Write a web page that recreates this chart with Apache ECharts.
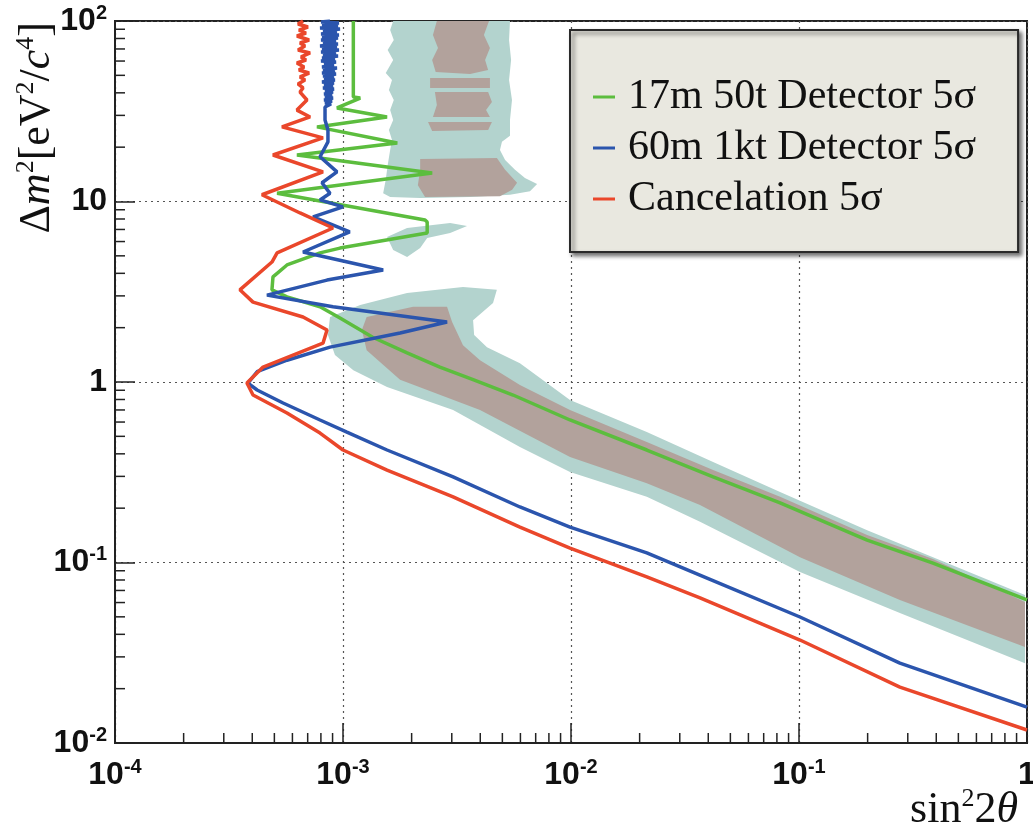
<!DOCTYPE html>
<html><head><meta charset="utf-8">
<script src="https://cdn.jsdelivr.net/npm/echarts@6/dist/echarts.min.js"></script>
<style>html,body{margin:0;padding:0;background:#fff}#c{width:1033px;height:831px}</style>
</head><body><div id="c"></div>
<script>
// ---------- data (x = sin^2 2θ, y = Δm^2 [eV^2/c^4]) ----------
const seriesNames = ['17m 50t Detector 5σ', '60m 1kt Detector 5σ', 'Cancelation 5σ'];

const green17m = [[1.11e-3,100],[1.11e-3,37.9],[1.19e-3,37.4],[9.41e-4,33.0],[1.56e-3,29.4],[7.69e-4,25.9],[1.73e-3,21.1],[6.28e-4,18.1],[2.46e-3,14.4],[5.14e-4,11.1],[2.29e-3,7.90],[2.34e-3,7.70],[2.34e-3,6.69],[9.70e-4,5.52],[7.93e-4,5.19],[5.68e-4,4.45],[4.93e-4,3.82],[4.88e-4,3.24],[5.68e-4,2.96],[7.93e-4,2.61],[9.70e-4,2.26],[1.35e-3,1.77],[1.91e-3,1.45],[2.66e-3,1.21],[3.72e-3,1.03],[5.57e-3,0.847],[9.90e-3,0.616],[2.15e-2,0.420],[4.20e-2,0.298],[8.26e-2,0.214],[1.99e-1,0.133],[3.87e-1,0.0993],[1,0.0620]];

const blue60m = [[8.77e-4,100],[8.01e-4,98.7],[9.60e-4,97.5],[8.09e-4,95.0],[9.51e-4,93.8],[7.93e-4,91.5],[9.70e-4,90.3],[8.17e-4,88.0],[9.41e-4,86.9],[8.01e-4,84.8],[9.60e-4,83.6],[8.09e-4,81.6],[9.51e-4,80.5],[8.01e-4,78.5],[9.32e-4,77.5],[8.17e-4,75.5],[9.51e-4,74.6],[7.93e-4,72.7],[9.41e-4,71.8],[8.09e-4,70.0],[9.60e-4,69.1],[8.01e-4,67.4],[9.32e-4,66.5],[8.17e-4,64.9],[9.51e-4,64.0],[8.09e-4,62.4],[9.22e-4,61.6],[8.01e-4,60.1],[9.32e-4,59.3],[8.26e-4,57.8],[9.13e-4,57.0],[8.09e-4,55.6],[9.41e-4,54.9],[8.17e-4,53.5],[9.22e-4,52.8],[8.09e-4,51.5],[9.32e-4,50.8],[8.17e-4,49.6],[9.13e-4,49.0],[8.26e-4,47.8],[9.22e-4,47.1],[8.09e-4,45.9],[9.13e-4,45.3],[8.26e-4,44.2],[9.04e-4,43.6],[8.17e-4,42.6],[9.13e-4,42.0],[8.34e-4,41.0],[9.04e-4,40.4],[8.26e-4,39.4],[8.95e-4,38.9],[8.34e-4,37.9],[9.04e-4,37.4],[8.26e-4,36.5],[8.95e-4,36.0],[8.34e-4,35.1],[8.86e-4,34.7],[8.34e-4,33.4],[8.34e-4,28.3],[8.59e-4,24.9],[8.59e-4,21.4],[7.93e-4,17.7],[9.41e-4,14.6],[8.09e-4,12.7],[8.77e-4,11.1],[7.93e-4,10.2],[1.0e-3,9.33],[7.39e-4,8.21],[1.07e-3,6.78],[6.68e-4,5.25],[1.50e-3,4.17],[8.51e-4,3.67],[4.64e-4,3.03],[9.04e-4,2.61],[2.86e-3,2.15],[1.78e-3,1.87],[8.77e-4,1.56],[5.68e-4,1.32],[4.20e-4,1.14],[3.83e-4,0.987],[4.20e-4,0.903],[5.46e-4,0.765],[7.93e-4,0.616],[1.04e-3,0.528],[1.56e-3,0.420],[3.04e-3,0.298],[5.97e-3,0.203],[9.90e-3,0.157],[2.15e-2,0.113],[3.95e-2,0.0820],[1.01e-1,0.0499],[2.77e-1,0.0277],[1,0.0158]];

const redCancel = [[6.68e-4,100],[6.35e-4,96.2],[7.02e-4,92.6],[6.41e-4,89.1],[6.88e-4,85.8],[6.28e-4,82.6],[7.10e-4,78.5],[6.48e-4,75.5],[6.81e-4,72.7],[6.35e-4,69.1],[7.17e-4,66.5],[6.55e-4,63.2],[6.88e-4,60.8],[6.28e-4,58.5],[6.75e-4,55.6],[6.41e-4,53.5],[7.10e-4,51.5],[6.48e-4,49.0],[6.81e-4,47.1],[6.35e-4,44.8],[6.68e-4,42.6],[6.48e-4,40.4],[6.95e-4,36.5],[6.28e-4,32.1],[7.17e-4,29.4],[5.40e-4,25.9],[8.17e-4,22.5],[4.93e-4,18.1],[8.17e-4,14.6],[4.41e-4,10.9],[6.48e-4,8.64],[9.04e-4,7.13],[5.14e-4,5.19],[4.88e-4,4.62],[3.53e-4,3.24],[4.03e-4,2.77],[6.68e-4,2.29],[8.51e-4,1.94],[8.17e-4,1.64],[4.46e-4,1.21],[3.79e-4,0.987],[4.03e-4,0.847],[5.68e-4,0.673],[7.93e-4,0.521],[1.0e-3,0.420],[1.56e-3,0.325],[3.04e-3,0.231],[5.97e-3,0.157],[9.90e-3,0.120],[2.15e-2,0.0832],[3.68e-2,0.0636],[1.01e-1,0.0372],[2.77e-1,0.0204],[1,0.0118]];

// shaded regions (outer = teal, inner = brown)
const tealTop = [[1.66e-3,100],[1.61e-3,89.1],[1.67e-3,78.5],[1.57e-3,69.1],[1.66e-3,60.8],[1.54e-3,51.5],[1.64e-3,47.1],[1.59e-3,41.5],[1.67e-3,36.5],[1.61e-3,32.1],[1.66e-3,28.3],[1.59e-3,24.9],[1.64e-3,21.9],[1.61e-3,19.3],[1.57e-3,15.9],[1.54e-3,13.2],[1.50e-3,11.1],[1.61e-3,10.6],[2.18e-3,10.45],[3.61e-3,10.6],[5.40e-3,10.9],[6.61e-3,11.4],[7.10e-3,12.5],[6.28e-3,13.5],[5.68e-3,15.0],[5.14e-3,17.0],[4.88e-3,19.3],[4.98e-3,21.4],[5.40e-3,23.1],[5.40e-3,28.3],[5.51e-3,36.5],[5.35e-3,47.1],[5.46e-3,60.8],[5.35e-3,78.5],[5.40e-3,100]];
const tealMid = [[1.56e-3,6.36],[1.91e-3,7.13],[2.95e-3,7.60],[3.50e-3,7.31],[2.95e-3,6.69],[2.34e-3,6.28],[2.18e-3,5.52],[1.91e-3,4.93],[1.66e-3,5.39]];
const tealLow = [[8.77e-4,2.29],[1.19e-3,2.67],[1.91e-3,3.11],[3.36e-3,3.36],[4.73e-3,3.24],[4.55e-3,2.74],[3.72e-3,2.20],[3.76e-3,1.82],[4.28e-3,1.56],[5.97e-3,1.27],[9.90e-3,0.795],[2.15e-2,0.528],[4.20e-2,0.360],[8.26e-2,0.246],[1.99e-1,0.151],[3.87e-1,0.107],[0.98,0.0661],[0.98,0.0277],[2.77e-1,0.0525],[1.01e-1,0.0885],[3.68e-2,0.168],[2.15e-2,0.231],[9.90e-3,0.317],[5.97e-3,0.436],[3.04e-3,0.700],[1.56e-3,0.938],[1.11e-3,1.16],[9.22e-4,1.41],[8.59e-4,1.82]];
const brownA = [[2.58e-3,100],[2.48e-3,83.6],[2.61e-3,70.9],[2.46e-3,60.8],[2.55e-3,52.2],[3.61e-3,50.8],[4.33e-3,53.5],[4.20e-3,60.8],[4.41e-3,70.9],[4.15e-3,83.6],[4.37e-3,100]];
const brownB = [[2.41e-3,48.3],[4.41e-3,48.3],[4.41e-3,42.6],[2.41e-3,42.6]];
const brownC = [[2.53e-3,40.4],[4.33e-3,40.4],[4.50e-3,35.6],[4.24e-3,32.1],[4.41e-3,29.4],[2.48e-3,29.4],[2.58e-3,34.2]];
const brownD = [[2.36e-3,27.6],[4.50e-3,27.6],[4.33e-3,24.9],[2.46e-3,24.6]];
const brownE = [[2.18e-3,17.2],[4.73e-3,17.4],[5.14e-3,15.0],[5.80e-3,12.7],[5.52e-3,11.6],[4.88e-3,10.7],[2.29e-3,10.6],[2.13e-3,12.3],[2.18e-3,15.0]];
const brownLow = [[1.27e-3,2.29],[2.03e-3,2.61],[2.86e-3,2.61],[3.01e-3,2.15],[3.36e-3,1.60],[3.99e-3,1.32],[5.97e-3,0.962],[9.90e-3,0.700],[2.15e-2,0.465],[4.20e-2,0.325],[8.26e-2,0.231],[1.99e-1,0.142],[3.87e-1,0.1045],[0.98,0.0604],[0.98,0.0340],[2.77e-1,0.0620],[1.01e-1,0.107],[3.68e-2,0.208],[2.15e-2,0.275],[9.90e-3,0.384],[3.99e-3,0.700],[1.78e-3,1.03],[1.27e-3,1.50],[1.21e-3,1.94]];

// axis ticks and labels
const xTickValues = [1e-4, 1e-3, 1e-2, 1e-1, 1];
const xTickLabels = ['{b|10}{s|-4}', '{b|10}{s|-3}', '{b|10}{s|-2}', '{b|10}{s|-1}', '{b|1}'];
const yTickValues = [1e-2, 1e-1, 1, 10, 100];
const yTickLabels = ['{b|10}{s|-2}', '{b|10}{s|-1}', '{b|1}', '{b|10}', '{b|10}{s|2}'];
const xMinorTicks = [2e-4,3e-4,4e-4,5e-4,6e-4,7e-4,8e-4,9e-4,2e-3,3e-3,4e-3,5e-3,6e-3,7e-3,8e-3,9e-3,2e-2,3e-2,4e-2,5e-2,6e-2,7e-2,8e-2,9e-2,0.2,0.3,0.4,0.5,0.6,0.7,0.8,0.9];
const yMinorTicks = [0.02,0.03,0.04,0.05,0.06,0.07,0.08,0.09,0.2,0.3,0.4,0.5,0.6,0.7,0.8,0.9,2,3,4,5,6,7,8,9,20,30,40,50,60,70,80,90];
const xTitle = 'sin{s|2}2{i|θ}';
const yTitle = 'Δ{i|m}{s|2}[eV{s|2}/{i|c}{s|4}]';

// ---------- styling ----------
const GREEN = '#5cbd3e', BLUE = '#2b55ad', RED = '#ea472b', TEAL = '#b3d3ce', BROWN = '#b2a29c';
const SANS = '"Liberation Sans Narrow","Liberation Sans",Arial,sans-serif';
const SERIF = '"Liberation Serif","Times New Roman",serif';
const labelRich = {
  b: {fontFamily: SANS, fontWeight: 'bold', fontSize: 32, color: '#111', lineHeight: 36},
  s: {fontFamily: SANS, fontWeight: 'bold', fontSize: 20, color: '#111', lineHeight: 20, verticalAlign: 'top'}
};
function pick(values, labels, v) {
  for (let i = 0; i < values.length; i++) if (Math.abs(Math.log10(values[i]) - Math.log10(v)) < 1e-6) return labels[i];
  return '';
}
function poly(name, pts, color) {
  return {
    type: 'custom', name: name, coordinateSystem: 'cartesian2d', silent: true,
    encode: {x: 0, y: 1}, data: pts, z: 1,
    renderItem: function (params, api) {
      if (params.dataIndex !== 0) return;
      return {type: 'polygon', shape: {points: pts.map(p => api.coord(p))}, style: {fill: color}};
    }
  };
}
function line(name, data, color) {
  return {type: 'line', name: name, data: data, showSymbol: false, symbol: 'none', color: color,
    lineStyle: {color: color, width: 3.5}, itemStyle: {color: color}, z: 3, silent: true};
}
function minorX(len) {
  return {type: 'custom', coordinateSystem: 'cartesian2d', silent: true, z: 4,
    data: xMinorTicks.map(v => [v, 0.01]),
    renderItem: function (params, api) {
      const p = api.coord([api.value(0), 0.01]);
      return {type: 'line', shape: {x1: p[0], y1: p[1], x2: p[0], y2: p[1] - len}, style: {stroke: '#222', lineWidth: 1.5}};
    }};
}
function minorY(len) {
  return {type: 'custom', coordinateSystem: 'cartesian2d', silent: true, z: 4,
    data: yMinorTicks.map(v => [1e-4, v]),
    renderItem: function (params, api) {
      const p = api.coord([1e-4, api.value(1)]);
      return {type: 'line', shape: {x1: p[0], y1: p[1], x2: p[0] + len, y2: p[1]}, style: {stroke: '#222', lineWidth: 1.5}};
    }};
}
const titleRich = (size, sup) => ({
  i: {fontFamily: SERIF, fontSize: size, fontStyle: 'italic', fill: '#111', lineHeight: size + 4},
  s: {fontFamily: SERIF, fontSize: sup, fill: '#111', verticalAlign: 'top', lineHeight: sup}
});

const chart = echarts.init(document.getElementById('c'), null, {renderer: 'canvas'});
chart.setOption({
  animation: false,
  backgroundColor: '#fff',
  grid: {left: 115, right: 6, top: 21, bottom: 88, show: true, borderColor: '#222', borderWidth: 2,
    containLabel: false, outerBoundsMode: 'none'},
  xAxis: {
    type: 'log', logBase: 10, min: 1e-4, max: 1,
    axisLine: {show: true, lineStyle: {color: '#222', width: 2}},
    axisTick: {show: true, inside: true, length: 20, lineStyle: {color: '#222', width: 1.5}},
    minorTick: {show: false},
    splitLine: {show: true, lineStyle: {color: '#555', width: 1.2, type: [2, 4]}},
    axisLabel: {margin: 14, showMinLabel: true, showMaxLabel: true, hideOverlap: false, rich: labelRich,
      formatter: v => pick(xTickValues, xTickLabels, v)}
  },
  yAxis: {
    type: 'log', logBase: 10, min: 1e-2, max: 100,
    axisLine: {show: true, lineStyle: {color: '#222', width: 2}},
    axisTick: {show: true, inside: true, length: 20, lineStyle: {color: '#222', width: 1.5}},
    splitLine: {show: true, lineStyle: {color: '#555', width: 1.2, type: [2, 4]}},
    axisLabel: {margin: 8, showMinLabel: true, showMaxLabel: true, hideOverlap: false, rich: labelRich,
      formatter: v => pick(yTickValues, yTickLabels, v)}
  },
  legend: {
    data: seriesNames, orient: 'vertical', left: 570, top: 30,
    padding: [46, 42, 32, 23], itemWidth: 22, itemHeight: 3, itemGap: 9, icon: 'rect',
    backgroundColor: '#e9e8e0', borderColor: '#2a2a2a', borderWidth: 2,
    shadowColor: 'rgba(0,0,0,0.55)', shadowBlur: 4, shadowOffsetX: 3, shadowOffsetY: 3,
    selectedMode: false,
    textStyle: {fontFamily: SERIF, fontSize: 42, color: '#111', lineHeight: 42, padding: [0, 0, 0, 8]}
  },
  graphic: [{
    type: 'text', x: 37, y: 22, rotation: Math.PI / 2, z: 10,
    style: {
      text: yTitle, fontFamily: SERIF, fontSize: 44, fill: '#111',
      align: 'right', verticalAlign: 'middle', textAlign: 'right', textVerticalAlign: 'middle',
      rich: titleRich(44, 26)
    }
  }, {
    type: 'text', x: 1018, y: 834, z: 10,
    style: {
      text: xTitle, fontFamily: SERIF, fontSize: 44, fill: '#111',
      align: 'right', verticalAlign: 'bottom', textAlign: 'right', textVerticalAlign: 'bottom',
      rich: titleRich(44, 26)
    }
  }],
  series: [
    poly('tealTop', tealTop, TEAL), poly('tealMid', tealMid, TEAL), poly('tealLow', tealLow, TEAL),
    poly('brownA', brownA, BROWN), poly('brownB', brownB, BROWN), poly('brownC', brownC, BROWN),
    poly('brownD', brownD, BROWN), poly('brownE', brownE, BROWN), poly('brownLow', brownLow, BROWN),
    line(seriesNames[0], green17m, GREEN),
    line(seriesNames[1], blue60m, BLUE),
    line(seriesNames[2], redCancel, RED),
    minorX(10), minorY(10)
  ]
});
</script></body></html>
